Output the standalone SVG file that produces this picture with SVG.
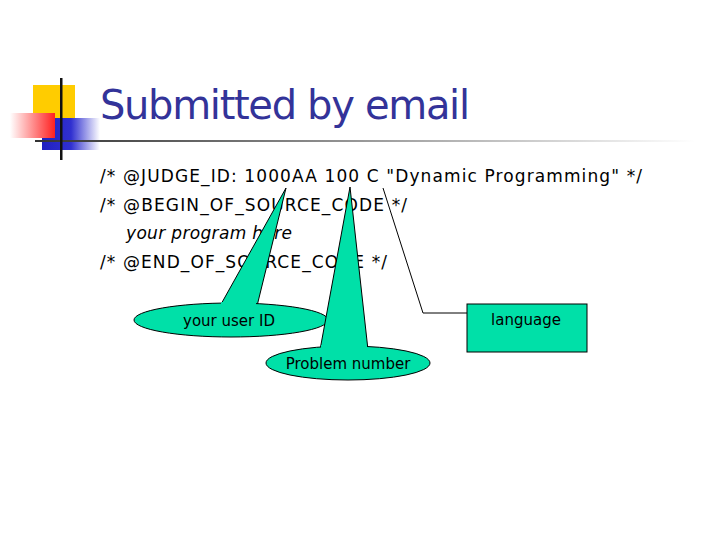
<svg xmlns="http://www.w3.org/2000/svg" width="720" height="540" viewBox="0 0 720 540">
<defs>
<linearGradient id="hl" x1="0" x2="1"><stop offset="0" stop-color="#333"/><stop offset="0.5" stop-color="#999"/><stop offset="1" stop-color="#fff"/></linearGradient>
<linearGradient id="rg" x1="0" x2="1"><stop offset="0" stop-color="#fff"/><stop offset="1" stop-color="#ff2020"/></linearGradient>
<linearGradient id="bg" x1="0" x2="1"><stop offset="0" stop-color="#2020c0"/><stop offset="0.5" stop-color="#3030d0"/><stop offset="1" stop-color="#fff"/></linearGradient>
<style>
.t{font-family:"DejaVu Sans",sans-serif;font-size:17px;fill:#000}
.s{font-family:"DejaVu Sans",sans-serif;font-size:15px;fill:#000}
.g{fill:#00e0a8;stroke:#000;stroke-width:1}
</style>
</defs>
<g id="decor">
<rect x="33" y="85" width="42" height="33" fill="#ffcc00"/>
<rect x="42" y="118" width="58" height="32" fill="url(#bg)"/>
<rect x="10" y="113" width="45" height="25" fill="url(#rg)"/>
<rect x="35" y="140" width="660" height="2" fill="url(#hl)"/>
<rect x="60" y="78" width="2.5" height="82" fill="#111"/>
</g>
<text x="100" y="119" font-family="DejaVu Sans,sans-serif" font-size="40" fill="#333399" textLength="370">Submitted by email</text>
<g id="code">
<text class="t" x="100" y="182" textLength="542">/* @JUDGE_ID:  1000AA  100  C  "Dynamic Programming" */</text>
<text class="t" x="100" y="211" textLength="307">/* @BEGIN_OF_SOURCE_CODE */</text>
<text class="t" x="126" y="239" font-style="italic" textLength="166">your program here</text>
<text class="t" x="100" y="268" textLength="287">/* @END_OF_SOURCE_CODE */</text>
</g>
<g id="connectors">
<polyline points="383,188 423,313 467,313" fill="none" stroke="#000" stroke-width="1"/>
</g>
<g id="userid">
<path class="g" d="M220,306 L286,188 L257,306"/>
<ellipse class="g" cx="231" cy="320" rx="97" ry="17"/>
<path d="M221,304 L256,304" stroke="#00e0a8" stroke-width="4"/>
<text class="s" x="229" y="326" text-anchor="middle">your user ID</text>
</g>
<g id="problem">
<path class="g" d="M320,350 L350,187 L368,350"/>
<ellipse class="g" cx="348" cy="363" rx="82" ry="17"/>
<path d="M321,347 L367,347" stroke="#00e0a8" stroke-width="4"/>
<text class="s" x="348" y="369" text-anchor="middle">Problem number</text>
</g>
<g id="language">
<rect class="g" x="467" y="304" width="120" height="48"/>
<text class="s" x="526" y="325" text-anchor="middle">language</text>
</g>
</svg>
